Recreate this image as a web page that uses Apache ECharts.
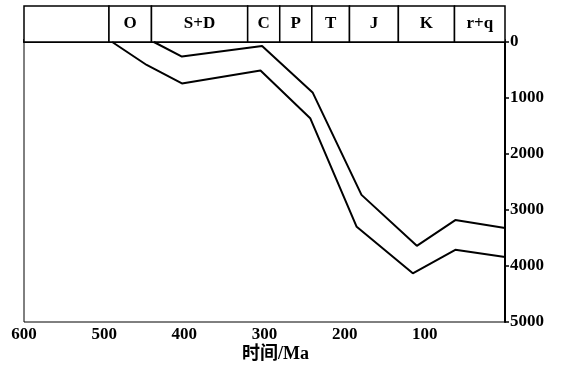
<!DOCTYPE html>
<html><head><meta charset="utf-8">
<script src="https://cdn.jsdelivr.net/npm/echarts@6/dist/echarts.min.js"></script>
<style>html,body{margin:0;padding:0;background:#fff}#c{width:569px;height:377px}</style>
</head><body><div id="c"></div>
<script>
// Geological periods: [start Ma, end Ma, label]
const periodStarts = [600, 494, 441, 321, 281, 241, 194, 133, 63];
const periodEnds   = [494, 441, 321, 281, 241, 194, 133, 63, 0];
const periodLabels = ['', 'O', 'S+D', 'C', 'P', 'T', 'J', 'K', 'r+q'];
// Burial curves: age (Ma) and depth (m)
const upperAge   = [438, 403, 303, 240, 179, 110, 62, 0];
const upperDepth = [0, 260, 70, 900, 2730, 3640, 3180, 3320];
const lowerAge   = [490, 447, 403, 305, 243, 185, 115, 62, 0];
const lowerDepth = [0, 410, 740, 510, 1360, 3300, 4130, 3710, 3840];
const xTicks = [600, 500, 400, 300, 200, 100];
const yTicks = [0, 1000, 2000, 3000, 4000, 5000];
const xName = '时间/Ma';

const FONT = '"Liberation Serif", "Times New Roman", "Noto Sans CJK SC", serif';
const chart = echarts.init(document.getElementById('c'));
const bandData = periodStarts.map((s, i) => [s, periodEnds[i], periodLabels[i]]);

chart.setOption({
  animation: false,
  backgroundColor: '#fff',
  grid: [
    {left: 24, right: 64, top: 42, bottom: 55, show: true, borderColor: '#000', borderWidth: 1},
    {left: 24, right: 64, top: 6, height: 36}
  ],
  xAxis: [
    {gridIndex: 0, type: 'value', min: 0, max: 600, interval: 100, inverse: true,
     axisLine: {show: true, lineStyle: {color: '#000', width: 2}},
     axisTick: {show: true, inside: true, length: 3, lineStyle: {color: '#000', width: 1.5}},
     splitLine: {show: false},
     axisLabel: {color: '#000', fontFamily: FONT, fontWeight: 'bold', fontSize: 17, margin: 4,
       formatter: v => xTicks.indexOf(v) >= 0 ? String(v) : ''}},
    {gridIndex: 1, type: 'value', min: 0, max: 600, inverse: true, show: false}
  ],
  yAxis: [
    {gridIndex: 0, type: 'value', min: 0, max: 5000, interval: 1000, inverse: true, position: 'right',
     axisLine: {show: true, lineStyle: {color: '#000', width: 2}},
     axisTick: {show: true, length: 4, lineStyle: {color: '#000', width: 1.5}},
     splitLine: {show: false},
     axisLabel: {color: '#000', fontFamily: FONT, fontWeight: 'bold', fontSize: 17, margin: 5,
       formatter: v => yTicks.indexOf(v) >= 0 ? String(v) : ''}},
    {gridIndex: 1, type: 'value', min: 0, max: 1, show: false}
  ],
  graphic: [{
    type: 'text', left: 242, top: 345,
    style: {text: xName, fill: '#000', font: 'bold 18px ' + FONT}
  }],
  series: [
    {type: 'line', xAxisIndex: 0, yAxisIndex: 0, showSymbol: false, symbol: 'none',
     lineStyle: {color: '#000', width: 2},
     data: upperAge.map((a, i) => [a, upperDepth[i]])},
    {type: 'line', xAxisIndex: 0, yAxisIndex: 0, showSymbol: false, symbol: 'none',
     lineStyle: {color: '#000', width: 2},
     data: lowerAge.map((a, i) => [a, lowerDepth[i]])},
    {type: 'custom', xAxisIndex: 1, yAxisIndex: 1, data: bandData,
     renderItem: function (params, api) {
       const p1 = api.coord([api.value(0), 1]);
       const p2 = api.coord([api.value(1), 0]);
       const x = Math.min(p1[0], p2[0]), w = Math.abs(p2[0] - p1[0]);
       const y = Math.min(p1[1], p2[1]), h = Math.abs(p2[1] - p1[1]);
       return {type: 'group', children: [
         {type: 'rect', shape: {x: x, y: y, width: w, height: h},
          style: {fill: '#fff', stroke: '#000', lineWidth: 1.5}},
         {type: 'text', x: x + w / 2, y: y + h / 2,
          style: {text: bandData[params.dataIndex][2], fill: '#000', font: 'bold 17px ' + FONT,
                  textAlign: 'center', textVerticalAlign: 'middle'}}
       ]};
     }}
  ]
});
</script></body></html>
